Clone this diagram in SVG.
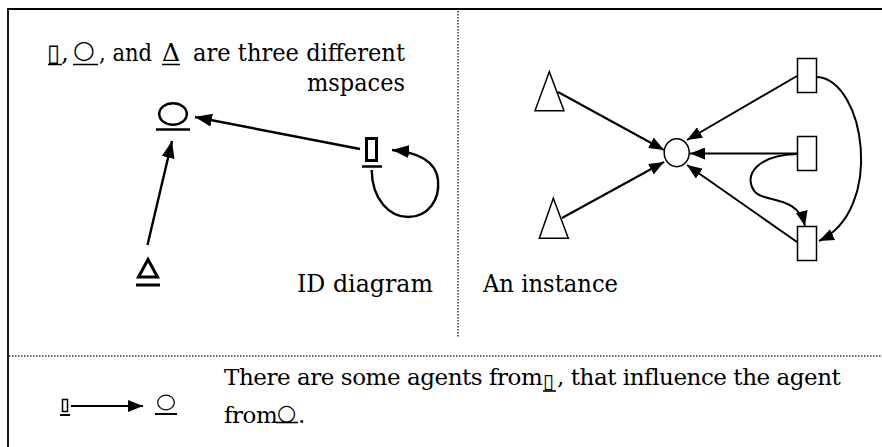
<svg xmlns="http://www.w3.org/2000/svg" width="882" height="447" viewBox="0 0 882 447">
<defs>
<style>
.t{font-family:'DejaVu Serif',serif;font-size:25px;fill:#000}
.tb{font-family:'DejaVu Serif',serif;font-size:23px;letter-spacing:-0.45px;fill:#000}
.sym{font-family:'DejaVu Sans',sans-serif;fill:#000;letter-spacing:0}
.ul{stroke:#000;stroke-width:1.6;fill:none}
.frame{stroke:#000;stroke-width:1.8;fill:none}
.dot{stroke:#333;stroke-width:1.5;stroke-dasharray:1.5 1.5;fill:none}
.edgeL{stroke:#000;stroke-width:2.4;fill:none}
.edgeR{stroke:#000;stroke-width:2;fill:none}
.shapeR{stroke:#000;stroke-width:1.5;fill:#fff}
</style>
<marker id="ahL" viewBox="0 0 17 13" refX="17" refY="6.5" markerWidth="17" markerHeight="13" markerUnits="userSpaceOnUse" orient="auto"><path d="M0,0 L17,6.5 L0,13 Z" fill="#000"/></marker>
<marker id="ahR" viewBox="0 0 15 12" refX="15" refY="6" markerWidth="15" markerHeight="12" markerUnits="userSpaceOnUse" orient="auto"><path d="M0,0 L15,6 L0,12 Z" fill="#000"/></marker>
</defs>

<g id="frame">
<path class="frame" d="M8,447 L8,9 L882,9"/>
<path class="dot" d="M458,11 L458,337"/>
<path class="dot" d="M9,356 L882,356"/>
</g>

<g id="title-text">
<text class="sym" x="47" y="61" font-size="24" font-weight="bold">▯</text>
<text class="t" x="61" y="61">,</text>
<text class="sym" x="73" y="58" font-size="25">○</text>
<text class="t" x="99" y="61" textLength="53" lengthAdjust="spacingAndGlyphs">, and</text>
<text class="t" x="162" y="61">Δ</text>
<text class="t" x="193" y="61" textLength="212" lengthAdjust="spacingAndGlyphs">are three different</text>
<text class="t" x="405" y="91" text-anchor="end" textLength="98" lengthAdjust="spacingAndGlyphs">mspaces</text>
<path class="ul" d="M48,64.5 L62,64.5 M73,64.5 L98,64.5 M162,64.5 L180,64.5"/>
</g>

<g id="id-circle">
<ellipse cx="173" cy="114" rx="13.8" ry="10.8" fill="none" stroke="#000" stroke-width="2.5"/>
<path d="M156,129.5 L190,129.5" stroke="#000" stroke-width="2.5"/>
</g>
<g id="id-rect">
<rect x="366.5" y="138.5" width="10" height="22" fill="none" stroke="#000" stroke-width="3"/>
<path d="M362,166.5 L382,166.5" stroke="#000" stroke-width="2.5"/>
</g>
<g id="id-triangle">
<polygon points="148,259.5 138.5,277 157.5,277" fill="none" stroke="#000" stroke-width="3" stroke-linejoin="miter"/>
<path d="M136,285 L160,285" stroke="#000" stroke-width="3"/>
</g>

<g id="id-edges">
<path class="edgeL" d="M360,149 L195,117" marker-end="url(#ahL)"/>
<path class="edgeL" d="M147.5,245 L172,141" marker-end="url(#ahL)"/>
<path class="edgeL" d="M371.7,170 C372,200 390,217 408,217 C428,217 440,200 438,180 C436,160 415,152 392,150" marker-end="url(#ahL)"/>
</g>

<text id="id-label" class="t" x="297" y="292" textLength="136" lengthAdjust="spacingAndGlyphs">ID diagram</text>

<g id="inst-tri1"><polygon class="shapeR" points="549.3,71.7 535,110.7 564,110.7"/></g>
<g id="inst-tri2"><polygon class="shapeR" points="553.3,198.3 539.3,238.3 568.3,238.3"/></g>
<g id="inst-circle"><ellipse class="shapeR" cx="676.7" cy="152.7" rx="12.5" ry="14"/></g>
<g id="inst-rect1"><rect class="shapeR" x="797.5" y="58.5" width="19" height="34"/></g>
<g id="inst-rect2"><rect class="shapeR" x="797.5" y="136.5" width="19" height="34"/></g>
<g id="inst-rect3"><rect class="shapeR" x="797.5" y="226.5" width="19" height="34"/></g>

<g id="inst-edges">
<path class="edgeR" d="M558,92 L664,150" marker-end="url(#ahR)"/>
<path class="edgeR" d="M562,218 L664,162" marker-end="url(#ahR)"/>
<path class="edgeR" d="M797,76 L687,140" marker-end="url(#ahR)"/>
<path class="edgeR" d="M797,153.5 L690,153.5" marker-end="url(#ahR)"/>
<path class="edgeR" d="M797,242 L687,165" marker-end="url(#ahR)"/>
<path class="edgeR" d="M797,154 C758,155 742,175 755,192 C765,203 798,195 805,226" marker-end="url(#ahR)"/>
<path class="edgeR" d="M817,77 C865,80 885,210 819,241" marker-end="url(#ahR)"/>
</g>

<text id="inst-label" class="t" x="483" y="292" textLength="135" lengthAdjust="spacingAndGlyphs">An instance</text>

<g id="legend-rect">
<rect x="62.5" y="399.5" width="5" height="12" fill="none" stroke="#000" stroke-width="1.5"/>
<path d="M60,415 L70,415" stroke="#000" stroke-width="2"/>
</g>
<g id="legend-circle">
<ellipse cx="166" cy="402.5" rx="8.3" ry="7.3" fill="none" stroke="#000" stroke-width="1.2"/>
<path d="M155,414 L177,414" stroke="#000" stroke-width="2"/>
</g>
<g id="legend-edge">
<path class="edgeR" d="M71,406 L143,406" marker-end="url(#ahR)"/>
</g>

<g id="legend-text">
<text class="tb" y="385"><tspan x="224">There are some agents from</tspan><tspan class="sym" x="543" y="388" font-size="20">▯</tspan><tspan x="557" y="385">, that influence the agent</tspan></text>
<path class="ul" d="M543,391 L556,391"/>
<text class="tb" y="423"><tspan x="224">from</tspan><tspan class="sym" x="277" y="420" font-size="22">○</tspan><tspan x="298" y="423">.</tspan></text>
<path class="ul" d="M276,422.5 L298,422.5"/>
</g>
</svg>
